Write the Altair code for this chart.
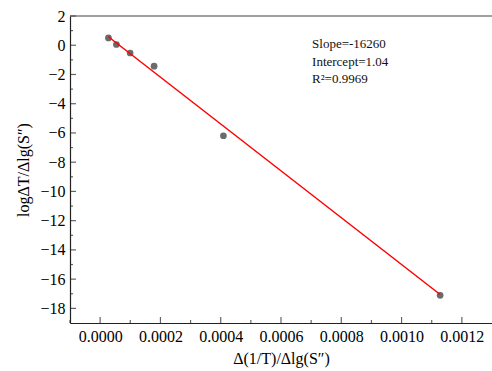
import altair as alt
import pandas as pd

# data
pt_x = [0.0000275, 0.000054, 0.0000995, 0.000179, 0.000409, 0.001128]
pt_y = [0.50, 0.05, -0.53, -1.43, -6.19, -17.11]
fit_x = [0.0000275, 0.001128]
fit_y = [0.58, -17.05]
ann_lines = ["Slope=-16260", "Intercept=1.04", "R\u00b2=0.9969"]
ann_x = [0.000703, 0.000703, 0.000703]
ann_y = [0.10, -1.12, -2.30]
x_major = [0.0, 0.0002, 0.0004, 0.0006, 0.0008, 0.0010, 0.0012]
x_minor = [-0.0001, 0.0001, 0.0003, 0.0005, 0.0007, 0.0009, 0.0011]
y_major = [2, 0, -2, -4, -6, -8, -10, -12, -14, -16, -18]
y_minor = [1, -1, -3, -5, -7, -9, -11, -13, -15, -17]

FONT = "Liberation Serif"
W, H = 422, 307

pts = pd.DataFrame({"x": pt_x, "y": pt_y})
fit = pd.DataFrame({"x": fit_x, "y": fit_y})
ann = pd.DataFrame({"x": ann_x, "y": ann_y, "t": ann_lines})

xs = alt.Scale(domain=[-0.0001, 0.0013], nice=False, zero=False)
ys = alt.Scale(domain=[-19, 2], nice=False, zero=False)

xaxis = alt.Axis(values=x_major, format=".4f", ticks=False, labelFont=FONT,
                 labelFontSize=16, labelColor="black", labelPadding=5,
                 domainColor="#222", domainWidth=1.2, grid=False,
                 labelOverlap=False,
                 title="\u0394(1/T)/\u0394lg(S\u2033)", titleFont=FONT,
                 titleFontSize=16, titleFontWeight="normal", titleColor="black",
                 titlePadding=6, labelFlush=False)
yaxis = alt.Axis(values=y_major, ticks=False, labelFont=FONT, labelFontSize=16,
                 labelColor="black", labelPadding=5, domainColor="#222",
                 domainWidth=1.2, grid=False, labelOverlap=False,
                 title="log\u0394T/\u0394lg(S\u2033)", titleFont=FONT,
                 titleFontSize=16, titleFontWeight="normal", titleColor="black",
                 titlePadding=8, labelFlush=False)

X = lambda f: alt.X(f, type="quantitative", scale=xs, axis=xaxis)
Y = lambda f: alt.Y(f, type="quantitative", scale=ys, axis=yaxis)

points = alt.Chart(pts).mark_circle(size=45, color="#6b6b6b", opacity=1).encode(
    x=X("x"), y=Y("y"),
)

line = alt.Chart(fit).mark_line(color="#ff0000", strokeWidth=1.5).encode(
    x=X("x"), y=Y("y")
)

text = alt.Chart(ann).mark_text(align="left", baseline="middle", font=FONT,
                                fontSize=13, color="#111").encode(
    x=X("x"), y=Y("y"), text="t:N"
)

xmaj = alt.Chart(pd.DataFrame({"v": x_major})).mark_tick(
    orient="vertical", size=6, yOffset=-3, color="#222", thickness=1.2
).encode(x=X("v"), y=alt.value(H))
xmin = alt.Chart(pd.DataFrame({"v": x_minor})).mark_tick(
    orient="vertical", size=3, yOffset=-1.5, color="#222", thickness=1.2
).encode(x=X("v"), y=alt.value(H))
ymaj = alt.Chart(pd.DataFrame({"v": y_major})).mark_tick(
    orient="horizontal", size=6, xOffset=3, color="#222", thickness=1.2
).encode(y=Y("v"), x=alt.value(0))
ymin = alt.Chart(pd.DataFrame({"v": y_minor})).mark_tick(
    orient="horizontal", size=3, xOffset=1.5, color="#222", thickness=1.2
).encode(y=Y("v"), x=alt.value(0))

top = alt.Chart(pd.DataFrame({"a": [0]})).mark_rule(color="#444", strokeWidth=1.2).encode(
    x=alt.value(0), x2=alt.value(W), y=alt.value(0)
)

chart = alt.layer(points, line, text, xmaj, xmin, ymaj, ymin, top).properties(
    width=W, height=H,
    autosize=alt.AutoSizeParams(type="none"),
    padding={"left": 70, "top": 16, "right": 0, "bottom": 48},
    background="white",
).configure_view(stroke=None).configure_axis(labelOverlap=False)

chart.save("out.html", embed_options={"renderer": "svg", "actions": False})
